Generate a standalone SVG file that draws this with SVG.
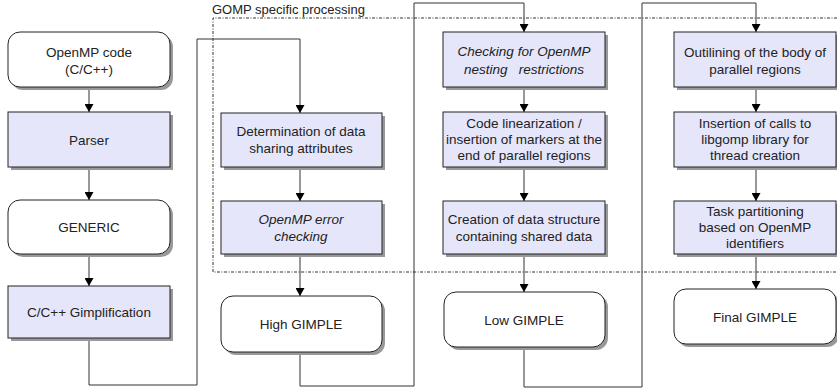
<svg xmlns="http://www.w3.org/2000/svg" width="837" height="390" viewBox="0 0 837 390">
<style>
.bg{fill:#ffffff}
.sh{fill:#999999}
.proc{fill:#e6e6fa;stroke:#222;stroke-width:1}
.term{fill:#ffffff;stroke:#222;stroke-width:1}
.t{font-family:"Liberation Sans",Arial,sans-serif;font-size:13.5px;fill:#222;text-anchor:middle}
.it{font-style:italic;white-space:pre}
.c{fill:none;stroke:#333;stroke-width:1}
.gomp{fill:none;stroke:#333;stroke-width:1;stroke-dasharray:3,1.5,1,1.5}
.lbl{font-family:"Liberation Sans",Arial,sans-serif;font-size:13px;fill:#222}
</style>
<defs>
<marker id="ah" markerWidth="8" markerHeight="9" refX="8" refY="4.5" orient="auto" markerUnits="userSpaceOnUse">
<path d="M0,0 L8,4.5 L0,9 Z" fill="#000"/>
</marker>
</defs>
<rect class="bg" x="0" y="0" width="837" height="390"/>

<g id="gomp-region">
<path class="gomp" d="M837,18 H213 V272 H837"/>
<text class="lbl" x="212" y="14">GOMP specific processing</text>
</g>

<g id="connectors">
<path class="c" d="M89,87 V112" marker-end="url(#ah)"/>
<path class="c" d="M89,167 V200" marker-end="url(#ah)"/>
<path class="c" d="M89,254 V286" marker-end="url(#ah)"/>
<path class="c" d="M89,338 V385 H197 V39 H300 V113" marker-end="url(#ah)"/>
<path class="c" d="M300,167 V201" marker-end="url(#ah)"/>
<path class="c" d="M300,254 V296" marker-end="url(#ah)"/>
<path class="c" d="M300,352 V386 H414 V3 H524 V32" marker-end="url(#ah)"/>
<path class="c" d="M524,87 V112" marker-end="url(#ah)"/>
<path class="c" d="M524,167 V201" marker-end="url(#ah)"/>
<path class="c" d="M524,254 V292" marker-end="url(#ah)"/>
<path class="c" d="M524,347 V387 H642 V3 H756 V32" marker-end="url(#ah)"/>
<path class="c" d="M756,87 V112" marker-end="url(#ah)"/>
<path class="c" d="M756,167 V201" marker-end="url(#ah)"/>
<path class="c" d="M756,254 V289" marker-end="url(#ah)"/>
</g>

<g id="openmp-code">
<rect class="sh" x="11" y="35" width="162" height="55" rx="12"/>
<rect class="term" x="8" y="32" width="162" height="55" rx="12"/>
<text class="t" x="89" y="57">OpenMP code</text>
<text class="t" x="89" y="74">(C/C++)</text>
</g>
<g id="parser">
<rect class="sh" x="11" y="115" width="162" height="55"/>
<rect class="proc" x="8" y="112" width="162" height="55"/>
<text class="t" x="89" y="145">Parser</text>
</g>
<g id="generic">
<rect class="sh" x="11" y="203" width="162" height="54" rx="12"/>
<rect class="term" x="8" y="200" width="162" height="54" rx="12"/>
<text class="t" x="89" y="232">GENERIC</text>
</g>
<g id="gimplification">
<rect class="sh" x="11" y="289" width="162" height="52"/>
<rect class="proc" x="8" y="286" width="162" height="52"/>
<text class="t" x="89" y="317">C/C++ Gimplification</text>
</g>

<g id="data-sharing">
<rect class="sh" x="224" y="116" width="161" height="54"/>
<rect class="proc" x="221" y="113" width="161" height="54"/>
<text class="t" x="301" y="136">Determination of data</text>
<text class="t" x="301" y="153">sharing attributes</text>
</g>
<g id="error-checking">
<rect class="sh" x="224" y="204" width="161" height="53"/>
<rect class="proc" x="221" y="201" width="161" height="53"/>
<text class="t it" x="301" y="224">OpenMP error</text>
<text class="t it" x="301" y="241">checking</text>
</g>
<g id="high-gimple">
<rect class="sh" x="224" y="299" width="161" height="56" rx="12"/>
<rect class="term" x="221" y="296" width="161" height="56" rx="12"/>
<text class="t" x="301" y="329">High GIMPLE</text>
</g>

<g id="nesting">
<rect class="sh" x="446" y="35" width="162" height="55"/>
<rect class="proc" x="443" y="32" width="162" height="55"/>
<text class="t it" x="524" y="56">Checking for OpenMP</text>
<text class="t it" x="524" y="74">nesting   restrictions</text>
</g>
<g id="linearization">
<rect class="sh" x="446" y="115" width="162" height="55"/>
<rect class="proc" x="443" y="112" width="162" height="55"/>
<text class="t" x="524" y="128">Code linearization /</text>
<text class="t" x="524" y="144">insertion of markers at the</text>
<text class="t" x="524" y="160">end of parallel regions</text>
</g>
<g id="data-structure">
<rect class="sh" x="446" y="204" width="162" height="53"/>
<rect class="proc" x="443" y="201" width="162" height="53"/>
<text class="t" x="524" y="224">Creation of data structure</text>
<text class="t" x="524" y="241">containing shared data</text>
</g>
<g id="low-gimple">
<rect class="sh" x="447" y="295" width="161" height="55" rx="12"/>
<rect class="term" x="444" y="292" width="161" height="55" rx="12"/>
<text class="t" x="524" y="325">Low GIMPLE</text>
</g>

<g id="outlining">
<rect class="sh" x="677" y="35" width="162" height="55"/>
<rect class="proc" x="674" y="32" width="162" height="55"/>
<text class="t" x="755" y="57">Outilining of the body of</text>
<text class="t" x="755" y="74">parallel regions</text>
</g>
<g id="libgomp-calls">
<rect class="sh" x="677" y="115" width="162" height="55"/>
<rect class="proc" x="674" y="112" width="162" height="55"/>
<text class="t" x="755" y="128">Insertion of calls to</text>
<text class="t" x="755" y="144">libgomp library for</text>
<text class="t" x="755" y="160">thread creation</text>
</g>
<g id="task-partitioning">
<rect class="sh" x="677" y="204" width="162" height="53"/>
<rect class="proc" x="674" y="201" width="162" height="53"/>
<text class="t" x="755" y="216">Task partitioning</text>
<text class="t" x="755" y="232">based on OpenMP</text>
<text class="t" x="755" y="248">identifiers</text>
</g>
<g id="final-gimple">
<rect class="sh" x="677" y="292" width="162" height="55" rx="12"/>
<rect class="term" x="674" y="289" width="162" height="55" rx="12"/>
<text class="t" x="755" y="322">Final GIMPLE</text>
</g>
</svg>
